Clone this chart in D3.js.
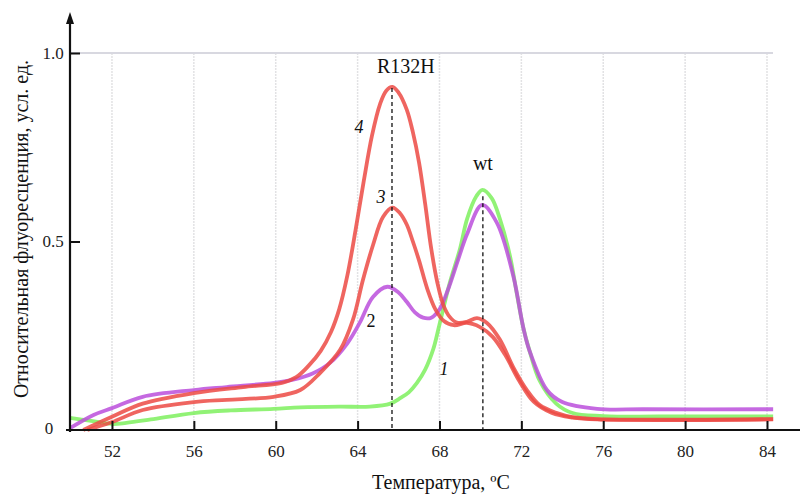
<!DOCTYPE html>
<html>
<head>
<meta charset="utf-8">
<script src="https://cdn.jsdelivr.net/npm/d3@7"></script>
<style>
  body { margin: 0; background: #fff; }
  svg { font-family: "Liberation Serif", "Times New Roman", serif; }
</style>
</head>
<body>
<svg id="chart" width="800" height="495"></svg>
<script>
const X_TICKS = [52, 56, 60, 64, 68, 72, 76, 80, 84];
const Y_TICKS = [0, 0.5, 1.0];
const Y_TICK_LABELS = ["0", "0.5", "1.0"];

// curve 1 - wt (green)
const temp1 = [49.95, 50.9, 52.0, 52.7, 53.9, 56.0, 57.8, 59.9, 61.2, 63.1, 64.6, 65.6, 66.1, 66.5, 66.9, 67.3, 67.7, 68.0, 68.5, 69.0, 69.35, 69.8, 70.1, 70.55, 70.95, 71.45, 71.75, 72.1, 72.4, 72.9, 73.7, 74.5, 76.0, 80.0, 84.3];
const val1  = [0.032, 0.025, 0.016, 0.019, 0.028, 0.045, 0.052, 0.056, 0.060, 0.062, 0.062, 0.07, 0.085, 0.1, 0.125, 0.16, 0.215, 0.28, 0.39, 0.48, 0.56, 0.62, 0.637, 0.615, 0.56, 0.46, 0.37, 0.27, 0.21, 0.13, 0.07, 0.045, 0.037, 0.036, 0.036];

// curve 2 - heterozygous (purple)
const temp2 = [49.95, 51.1, 52.0, 53.5, 56.0, 57.6, 59.9, 60.8, 61.8, 62.65, 63.5, 64.1, 64.75, 65.45, 66.0, 66.4, 66.8, 67.2, 67.6, 68.0, 68.4, 68.9, 69.35, 70.08, 70.8, 71.6, 72.1, 72.4, 73.25, 74.0, 75.7, 78.0, 84.3];
const val2  = [0.005, 0.04, 0.058, 0.088, 0.106, 0.114, 0.125, 0.133, 0.15, 0.178, 0.23, 0.284, 0.353, 0.38, 0.365, 0.34, 0.312, 0.298, 0.298, 0.32, 0.37, 0.45, 0.52, 0.597, 0.55, 0.41, 0.27, 0.21, 0.106, 0.074, 0.056, 0.055, 0.055];

// curve 3 - R132H (red, lower)
const temp3 = [50.8, 52.0, 53.5, 56.0, 57.6, 59.9, 61.2, 62.16, 63.14, 63.77, 64.26, 64.75, 65.24, 65.7, 66.07, 66.4, 66.7, 67.0, 67.4, 67.8, 68.2, 68.7, 69.34, 69.98, 70.6, 71.2, 71.9, 72.6, 73.5, 74.5, 75.7, 84.3];
const val3  = [0.0, 0.021, 0.053, 0.074, 0.08, 0.088, 0.106, 0.151, 0.212, 0.292, 0.398, 0.49, 0.565, 0.59, 0.575, 0.545, 0.5, 0.45, 0.375, 0.32, 0.29, 0.278, 0.284, 0.273, 0.247, 0.2, 0.13, 0.075, 0.045, 0.033, 0.028, 0.028];

// curve 4 - R132H (red, tall)
const temp4 = [50.6, 52.0, 53.5, 56.0, 58.4, 60.3, 61.0, 61.6, 62.2, 62.7, 63.1, 63.5, 63.9, 64.3, 64.7, 65.1, 65.4, 65.7, 66.0, 66.4, 66.7, 67.0, 67.3, 67.6, 67.9, 68.2, 68.5, 68.85, 69.34, 69.83, 70.32, 70.95, 71.6, 72.27, 72.9, 73.74, 74.5, 75.7, 84.3];
const val4  = [0.0, 0.035, 0.07, 0.098, 0.114, 0.125, 0.14, 0.17, 0.21, 0.26, 0.32, 0.41, 0.53, 0.66, 0.78, 0.865, 0.9, 0.91, 0.895, 0.85, 0.79, 0.71, 0.6, 0.48, 0.39, 0.33, 0.3, 0.285, 0.287, 0.297, 0.284, 0.24, 0.167, 0.106, 0.066, 0.045, 0.034, 0.029, 0.029];

const SERIES = [
  { t: temp1, v: val1, color: "#7ef05e" },
  { t: temp2, v: val2, color: "#bb4fdc" },
  { t: temp3, v: val3, color: "#ec4a44" },
  { t: temp4, v: val4, color: "#ec4a44" }
];

// peak markers and curve numbers (data units)
const PEAK_LINES = [
  { t: 65.68, v: 0.907, label: "R132H", lt: 66.36, lv: 0.947 },
  { t: 70.12, v: 0.62, label: "wt", lt: 70.12, lv: 0.69 }
];
const CURVE_LABELS = [
  { text: "4", t: 64.07, v: 0.788, italic: true },
  { text: "3", t: 65.14, v: 0.602, italic: true },
  { text: "2", t: 64.65, v: 0.273, italic: false },
  { text: "1", t: 68.22, v: 0.146, italic: true }
];

const svg = d3.select("#chart");

const x = d3.scaleLinear().domain([49.95, 84]).range([70, 767]);
const y = d3.scaleLinear().domain([0, 1]).range([430, 53]);

// grid
svg.append("g")
  .selectAll("line")
  .data(X_TICKS)
  .join("line")
  .attr("x1", d => x(d)).attr("x2", d => x(d))
  .attr("y1", y(1)).attr("y2", y(0))
  .attr("stroke", "#e2e2e4")
  .attr("stroke-width", 1.5)
  .attr("stroke-dasharray", "2,1");

svg.append("line")
  .attr("x1", x.range()[0]).attr("x2", 773)
  .attr("y1", y(1)).attr("y2", y(1))
  .attr("stroke", "#d8d8e0")
  .attr("stroke-width", 2);

// curves
const line = d3.line()
  .x(d => x(d[0]))
  .y(d => y(d[1]))
  .curve(d3.curveCatmullRom.alpha(0.5));

svg.append("g")
  .selectAll("path")
  .data(SERIES)
  .join("path")
  .attr("d", s => line(s.t.map((t, i) => [t, s.v[i]])))
  .attr("fill", "none")
  .attr("stroke", s => s.color)
  .attr("stroke-width", 3.8)
  .attr("stroke-opacity", 0.85)
  .attr("stroke-linejoin", "round");

// dashed peak lines
svg.append("g")
  .selectAll("line")
  .data(PEAK_LINES)
  .join("line")
  .attr("x1", d => x(d.t)).attr("x2", d => x(d.t))
  .attr("y1", d => y(d.v)).attr("y2", y(0))
  .attr("stroke", "#111")
  .attr("stroke-width", 1.3)
  .attr("stroke-dasharray", "4,3");

svg.append("g")
  .selectAll("text")
  .data(PEAK_LINES)
  .join("text")
  .attr("x", d => x(d.lt))
  .attr("y", d => y(d.lv))
  .attr("text-anchor", "middle")
  .attr("font-size", 20)
  .attr("fill", "#111")
  .text(d => d.label);

svg.append("g")
  .selectAll("text")
  .data(CURVE_LABELS)
  .join("text")
  .attr("x", d => x(d.t))
  .attr("y", d => y(d.v))
  .attr("text-anchor", "middle")
  .attr("font-size", 18)
  .attr("font-style", d => d.italic ? "italic" : "normal")
  .attr("fill", "#111")
  .text(d => d.text);

// x axis
const xAxis = d3.axisBottom(x)
  .tickValues(X_TICKS)
  .tickSizeInner(-9)
  .tickSizeOuter(0)
  .tickPadding(15)
  .tickFormat(d3.format("d"));

const gx = svg.append("g")
  .attr("transform", `translate(0,${y(0)})`)
  .call(xAxis);
gx.select(".domain").remove();
gx.selectAll(".tick line").attr("stroke", "#111").attr("stroke-width", 2);
gx.selectAll(".tick text")
  .attr("font-family", "Liberation Serif, serif")
  .attr("font-size", 17)
  .attr("fill", "#222");

svg.append("line")
  .attr("x1", 66).attr("x2", 800)
  .attr("y1", y(0)).attr("y2", y(0))
  .attr("stroke", "#111").attr("stroke-width", 2.2);

// y axis
const yAxis = d3.axisLeft(y)
  .tickValues(Y_TICKS)
  .tickSizeInner(-10)
  .tickSizeOuter(0)
  .tickPadding(0)
  .tickFormat((d, i) => Y_TICK_LABELS[i]);

const gy = svg.append("g")
  .attr("transform", `translate(${x.range()[0]},0)`)
  .call(yAxis);
gy.select(".domain").remove();
gy.selectAll(".tick line")
  .attr("stroke", d => d === 0 ? "none" : "#111")
  .attr("stroke-width", 2);
gy.selectAll(".tick text")
  .attr("font-family", "Liberation Serif, serif")
  .attr("font-size", 17)
  .attr("fill", "#222")
  .attr("text-anchor", "middle")
  .attr("x", d => d === 0 ? -21 : -17)
  .attr("dy", d => d === 0 ? "0.2em" : "0.32em");

svg.append("line")
  .attr("x1", x.range()[0]).attr("x2", x.range()[0])
  .attr("y1", y(0) + 2).attr("y2", 20)
  .attr("stroke", "#111").attr("stroke-width", 2.2);

svg.append("path")
  .attr("d", `M${x.range()[0]},12 L${x.range()[0] - 4},24 L${x.range()[0] + 4},24 Z`)
  .attr("fill", "#111");

// axis titles
svg.append("text")
  .attr("x", 441)
  .attr("y", 489)
  .attr("text-anchor", "middle")
  .attr("font-size", 20)
  .attr("fill", "#111")
  .text("Температура, ºC");

svg.append("text")
  .attr("transform", "translate(28,229) rotate(-90)")
  .attr("text-anchor", "middle")
  .attr("font-size", 20)
  .attr("fill", "#111")
  .text("Относительная флуоресценция, усл. ед.");
</script>
</body>
</html>
